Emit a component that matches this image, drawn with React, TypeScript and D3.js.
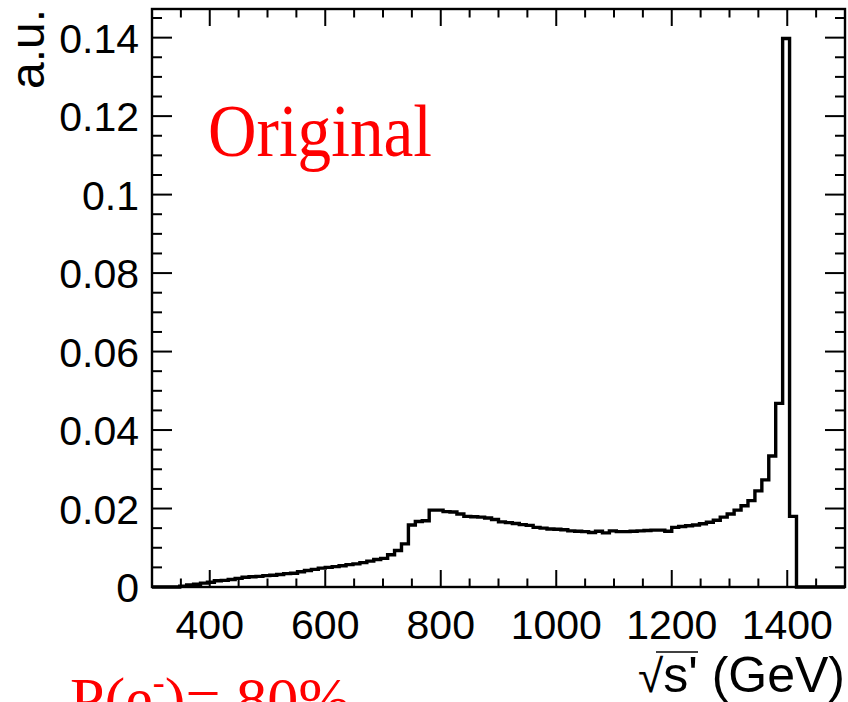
import React from "react";
import * as d3 from "d3";

// Histogram binning (GeV)
const binStart = 300;
const binWidth = 12;
// Bin contents (a.u.), bins of 12 GeV from 300 to 1500 GeV
const binValues = [
  0, 0, 0, 0, 0.0002, 0.0005, 0.0007, 0.001, 0.0012, 0.0016,
  0.0017, 0.0019, 0.0022, 0.0025, 0.0026, 0.0027, 0.0029, 0.003, 0.0032, 0.0034,
  0.0035, 0.0039, 0.0042, 0.0045, 0.0048, 0.005, 0.0052, 0.0054, 0.0057, 0.0059,
  0.0062, 0.0066, 0.007, 0.0073, 0.0082, 0.0093, 0.011, 0.0158, 0.0167, 0.0169,
  0.0196, 0.0196, 0.0192, 0.0191, 0.0186, 0.018, 0.0179, 0.0178, 0.0176, 0.0172,
  0.0166, 0.0164, 0.0162, 0.0159, 0.0157, 0.0152, 0.015, 0.0148, 0.0147, 0.0146,
  0.0143, 0.0142, 0.0141, 0.0139, 0.0142, 0.0138, 0.0143, 0.0141, 0.0141, 0.0142,
  0.0143, 0.0144, 0.0145, 0.0145, 0.0142, 0.0152, 0.0154, 0.0156, 0.0158, 0.0161,
  0.0165, 0.017, 0.0178, 0.0186, 0.0196, 0.0207, 0.022, 0.0245, 0.0273, 0.0334,
  0.0468, 0.1398, 0.018, 0, 0, 0, 0, 0, 0, 0,
];

const xMajorTicks = [400, 600, 800, 1000, 1200, 1400];
const xMinorTicks = [300, 350, 450, 500, 550, 650, 700, 750, 850, 900, 950, 1050, 1100, 1150, 1250, 1300, 1350, 1450, 1500];
const yMajorTicks = [0, 0.02, 0.04, 0.06, 0.08, 0.1, 0.12, 0.14];
const yTickLabels = ["0", "0.02", "0.04", "0.06", "0.08", "0.1", "0.12", "0.14"];
const yMinorStep = 0.005;

const xDomain = [300, 1500];
const yDomain = [0, 0.1473];

const W = 848;
const H = 702;
const left = 152;
const right = 845;
const top = 9;
const bottom = 587;

export default function App() {
  const x = d3.scaleLinear().domain(xDomain).range([left, right]);
  const y = d3.scaleLinear().domain(yDomain).range([bottom, top]);

  const pts: [number, number][] = [];
  binValues.forEach((v, i) => {
    const lo = binStart + i * binWidth;
    const hi = lo + binWidth;
    if (i === 0) pts.push([x(lo), y(0)]);
    pts.push([x(lo), y(v)]);
    pts.push([x(hi), y(v)]);
  });
  pts.push([x(binStart + binValues.length * binWidth), y(0)]);
  const line = d3.line<[number, number]>().x((d) => d[0]).y((d) => d[1]);

  const yMinor = d3.range(0, 0.1451, yMinorStep).filter(
    (v) => !yMajorTicks.some((m) => Math.abs(m - v) < 1e-9)
  );

  const xMajLen = 17, xMinLen = 8.5, yMajLen = 20, yMinLen = 10;
  const font = "'Liberation Sans', Arial, Helvetica, sans-serif";
  const serif = "'Liberation Serif', 'Times New Roman', serif";

  return (
    <svg
      width={W}
      height={H}
      style={{ position: "absolute", left: 0, top: 0, background: "#fff" }}
    >
      <rect x={0} y={0} width={W} height={H} fill="#fff" />
      {/* ticks */}
      <g stroke="#000" strokeWidth={2}>
        {xMajorTicks.map((t) => (
          <g key={"xM" + t}>
            <line x1={x(t)} x2={x(t)} y1={bottom} y2={bottom - xMajLen} />
            <line x1={x(t)} x2={x(t)} y1={top} y2={top + xMajLen} />
          </g>
        ))}
        {xMinorTicks.map((t) => (
          <g key={"xm" + t}>
            <line x1={x(t)} x2={x(t)} y1={bottom} y2={bottom - xMinLen} />
            <line x1={x(t)} x2={x(t)} y1={top} y2={top + xMinLen} />
          </g>
        ))}
        {yMajorTicks.map((t) => (
          <g key={"yM" + t}>
            <line x1={left} x2={left + yMajLen} y1={y(t)} y2={y(t)} />
            <line x1={right} x2={right - yMajLen} y1={y(t)} y2={y(t)} />
          </g>
        ))}
        {yMinor.map((t) => (
          <g key={"ym" + t}>
            <line x1={left} x2={left + yMinLen} y1={y(t)} y2={y(t)} />
            <line x1={right} x2={right - yMinLen} y1={y(t)} y2={y(t)} />
          </g>
        ))}
      </g>
      {/* histogram */}
      <path d={line(pts) || ""} fill="none" stroke="#000" strokeWidth={3.4} strokeLinejoin="miter" />
      {/* frame */}
      <rect x={left} y={top} width={right - left} height={bottom - top} fill="none" stroke="#000" strokeWidth={2.4} />
      {/* tick labels */}
      <g fontFamily={font} fontSize={41} fill="#000">
        {xMajorTicks.map((t) => (
          <text key={"xl" + t} x={x(t)} y={639} textAnchor="middle">
            {t}
          </text>
        ))}
        {yMajorTicks.map((t, i) => (
          <text key={"yl" + t} x={139} y={y(t) + 15} textAnchor="end">
            {yTickLabels[i]}
          </text>
        ))}
      </g>
      {/* axis titles */}
      <text
        fontFamily={font}
        fontSize={48}
        transform={`translate(44, ${top}) rotate(-90)`}
        textAnchor="end"
      >
        a.u.
      </text>
      <text fontFamily={font} fontSize={50} x={845} y={692} textAnchor="end">
        <tspan fontFamily="'DejaVu Sans', sans-serif" fontWeight={200} fontSize={46}>√</tspan>s' (GeV)
      </text>
      <line x1={656} x2={698} y1={652} y2={652} stroke="#000" strokeWidth={1.5} />
      {/* annotations */}
      <text
        x={208}
        y={156}
        fontFamily={serif}
        fontSize={74}
        fill="#ff0000"
        textLength={224}
        lengthAdjust="spacingAndGlyphs"
      >
        Original
      </text>
      <text x={70} y={720} fontFamily={serif} fontSize={62} fill="#ff0000" textLength={280} lengthAdjust="spacingAndGlyphs">
        P(e<tspan fontSize={36} dy={-26}>-</tspan>
        <tspan dy={26}>)= 80%</tspan>
      </text>
    </svg>
  );
}
